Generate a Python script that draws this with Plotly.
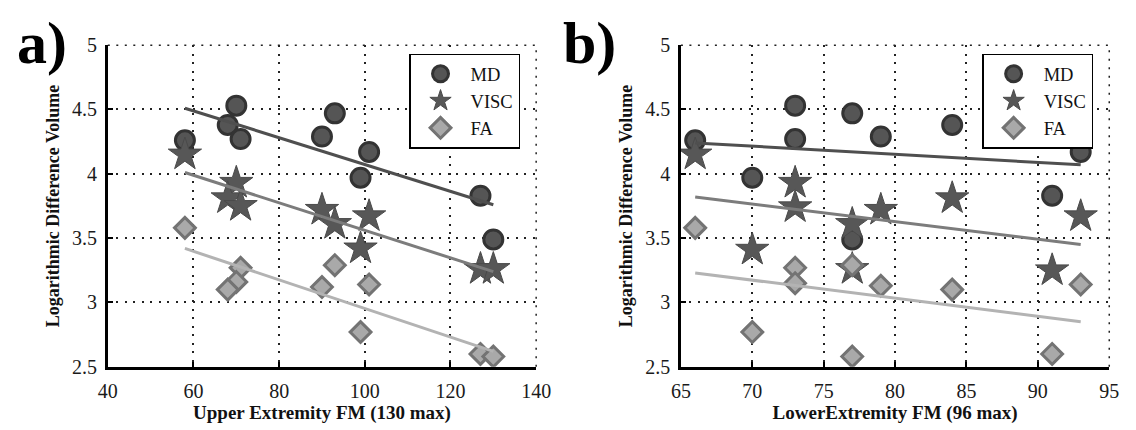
import plotly.graph_objects as go

# ---------------- data ----------------
# Panel a: Upper Extremity FM
ue_md_x = [58, 70, 68, 71, 90, 93, 101, 99, 127, 130]
ue_md_y = [4.26, 4.53, 4.38, 4.27, 4.29, 4.47, 4.17, 3.97, 3.83, 3.49]
ue_visc_x = [58, 70, 68, 71, 90, 93, 101, 99, 127, 130]
ue_visc_y = [4.15, 3.93, 3.81, 3.75, 3.72, 3.61, 3.67, 3.42, 3.26, 3.26]
ue_fa_x = [58, 71, 70, 68, 93, 90, 101, 99, 127, 130]
ue_fa_y = [3.58, 3.27, 3.16, 3.10, 3.29, 3.12, 3.14, 2.77, 2.60, 2.58]
ue_fit_x = [58, 130]
ue_md_fit = [4.51, 3.76]
ue_visc_fit = [4.01, 3.24]
ue_fa_fit = [3.42, 2.62]

# Panel b: Lower Extremity FM
le_md_x = [66, 70, 73, 73, 77, 79, 84, 93, 77, 91]
le_md_y = [4.26, 3.97, 4.53, 4.27, 4.47, 4.29, 4.38, 4.17, 3.49, 3.83]
le_visc_x = [66, 73, 73, 77, 79, 84, 70, 93, 91, 77]
le_visc_y = [4.15, 3.93, 3.74, 3.61, 3.72, 3.81, 3.41, 3.67, 3.25, 3.26]
le_fa_x = [66, 70, 73, 73, 77, 77, 79, 84, 91, 93]
le_fa_y = [3.58, 2.77, 3.27, 3.15, 3.29, 2.58, 3.13, 3.10, 2.60, 3.14]
le_fit_x = [66, 93]
le_md_fit = [4.24, 4.07]
le_visc_fit = [3.82, 3.45]
le_fa_fit = [3.23, 2.85]

series_names = ["MD", "VISC", "FA"]
y_ticks = [2.5, 3, 3.5, 4, 4.5, 5]
ue_ticks = [40, 60, 80, 100, 120, 140]
le_ticks = [65, 70, 75, 80, 85, 90, 95]

# ---------------- styles ----------------
FONT = "Liberation Serif, Times New Roman, Tinos, DejaVu Serif, serif"
md_marker = dict(symbol="circle", size=19, color="#555555", line=dict(color="#333333", width=3))
visc_marker = dict(symbol="star", size=25, color="#575757", line=dict(color="#4a4a4a", width=1))
fa_marker = dict(symbol="diamond", size=16, color="#a9a9a9", line=dict(color="#737373", width=3))
md_line = dict(color="#4f4f4f", width=3)
visc_line = dict(color="#7c7c7c", width=3)
fa_line = dict(color="#b3b3b3", width=3)

fig = go.Figure()

def add_panel(xa, ya, leg, mx, my, vx, vy, fx, fy, fitx, mfit, vfit, ffit):
    fig.add_trace(go.Scatter(x=mx, y=my, mode="markers", marker=md_marker, name=series_names[0],
                             xaxis=xa, yaxis=ya, legend=leg))
    fig.add_trace(go.Scatter(x=vx, y=vy, mode="markers", marker=visc_marker, name=series_names[1],
                             xaxis=xa, yaxis=ya, legend=leg))
    fig.add_trace(go.Scatter(x=fx, y=fy, mode="markers", marker=fa_marker, name=series_names[2],
                             xaxis=xa, yaxis=ya, legend=leg))
    for fit, ln in ((mfit, md_line), (vfit, visc_line), (ffit, fa_line)):
        fig.add_trace(go.Scatter(x=fitx, y=fit, mode="lines", line=ln, showlegend=False,
                                 xaxis=xa, yaxis=ya, hoverinfo="skip"))

add_panel("x", "y", "legend", ue_md_x, ue_md_y, ue_visc_x, ue_visc_y, ue_fa_x, ue_fa_y,
          ue_fit_x, ue_md_fit, ue_visc_fit, ue_fa_fit)
add_panel("x2", "y2", "legend2", le_md_x, le_md_y, le_visc_x, le_visc_y, le_fa_x, le_fa_y,
          le_fit_x, le_md_fit, le_visc_fit, le_fa_fit)

W, H = 1136, 430
ydom = [(H - 375) / H, (H - 36) / H]
GRID = dict(color="#222222", width=1.5, dash="2px,6.5px")

axis_common = dict(
    showline=True, linecolor="black", linewidth=2.5,
    ticks="inside", ticklen=5, tickwidth=2, tickcolor="black",
    showgrid=True, gridcolor=GRID["color"], gridwidth=GRID["width"], griddash=GRID["dash"],
    zeroline=False, mirror=False, ticklabelstandoff=4,
    tickfont=dict(family=FONT, size=20, color="#1a1a1a"),
)

xaxis_a = dict(axis_common, domain=[100 / W, 538 / W], range=[40, 140], tickvals=ue_ticks,
               title=dict(text="<b>Upper Extremity FM (130 max)</b>", standoff=3,
                          font=dict(family=FONT, size=19, color="#111111")),
               anchor="y")
xaxis_b = dict(axis_common, domain=[686 / W, 1124 / W], range=[65, 95], tickvals=le_ticks,
               title=dict(text="<b>LowerExtremity FM (96 max)</b>", standoff=3,
                          font=dict(family=FONT, size=19, color="#111111")),
               anchor="y2")
ytitle = dict(text="<b>Logarithmic Difference Volume</b>", standoff=8,
              font=dict(family=FONT, size=18, color="#111111"))
yaxis_a = dict(axis_common, domain=ydom, range=[2.5, 5], tickvals=y_ticks,
               ticktext=[f"{v:g}" for v in y_ticks], title=ytitle, anchor="x")
yaxis_b = dict(axis_common, domain=ydom, range=[2.5, 5], tickvals=y_ticks,
               ticktext=[f"{v:g}" for v in y_ticks], title=ytitle, anchor="x2")

legend_common = dict(
    bgcolor="white", bordercolor="black", borderwidth=1.5,
    font=dict(family=FONT, size=18.5, color="#111111"),
    yanchor="top", xanchor="left", tracegroupgap=0, itemsizing="trace",
    itemwidth=50, entrywidth=68,
)

# dotted top and right border lines (grid at the range limits)
shapes = []
for xr, yr in (("x", "y"), ("x2", "y2")):
    shapes.append(dict(type="line", xref=f"{xr} domain", yref=f"{yr} domain",
                       x0=0, x1=1, y0=1, y1=1, line=GRID, layer="below"))
    shapes.append(dict(type="line", xref=f"{xr} domain", yref=f"{yr} domain",
                       x0=1, x1=1, y0=0, y1=1, line=GRID, layer="below"))

fig.update_layout(
    width=W, height=H,
    margin=dict(l=0, r=0, t=0, b=0),
    paper_bgcolor="white", plot_bgcolor="white",
    xaxis=xaxis_a, yaxis=yaxis_a, xaxis2=xaxis_b, yaxis2=yaxis_b,
    legend=dict(legend_common, x=408 / W, y=(H - 45) / H),
    legend2=dict(legend_common, x=994 / W, y=(H - 45) / H),
    showlegend=True,
    shapes=shapes,
    annotations=[
        dict(text="<b>a)</b>", x=33 / W, y=(H - 34) / H, xref="paper", yref="paper",
             xanchor="center", yanchor="middle", showarrow=False,
             font=dict(family=FONT, size=60, color="black")),
        dict(text="<b>b)</b>", x=593 / W, y=(H - 34) / H, xref="paper", yref="paper",
             xanchor="center", yanchor="middle", showarrow=False,
             font=dict(family=FONT, size=60, color="black")),
    ],
)

fig.write_html("out.html")
